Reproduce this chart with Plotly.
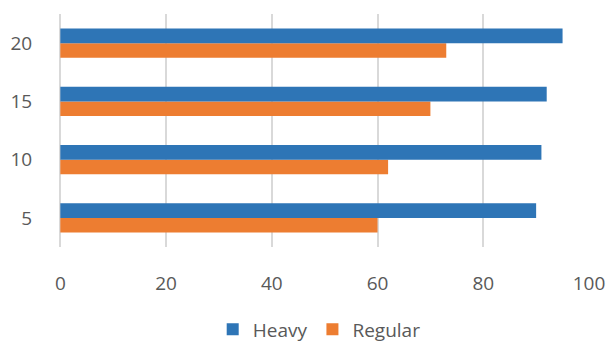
import plotly.graph_objects as go

# Category labels (bottom to top) and series values
categories = ["5", "10", "15", "20"]
heavy = [90, 91, 92, 95]
regular = [60, 62, 70, 73]
x_ticks = [0, 20, 40, 60, 80, 100]

BLUE = "#2E75B6"
ORANGE = "#ED7D31"
TEXT = "#595959"
GRID = "#D9D9D9"
FONT = "Open Sans, Liberation Sans, sans-serif"

fig = go.Figure()
# Regular first so that Heavy sits above it within each group
fig.add_trace(go.Bar(y=categories, x=regular, name="Regular", orientation="h",
                     marker=dict(color=ORANGE, line=dict(width=0))))
fig.add_trace(go.Bar(y=categories, x=heavy, name="Heavy", orientation="h",
                     marker=dict(color=BLUE, line=dict(width=0))))

fig.update_layout(
    width=608, height=343,
    margin=dict(l=59, r=19, t=14, b=96, autoexpand=False),
    paper_bgcolor="white", plot_bgcolor="white",
    barmode="group", bargap=0.5, bargroupgap=0,
    font=dict(family=FONT, size=19, color=TEXT),
    legend=dict(orientation="h", traceorder="reversed",
                x=0.525, xanchor="center", xref="container",
                y=0.04, yanchor="middle", yref="container",
                font=dict(size=19, color=TEXT), itemwidth=30),
    xaxis=dict(range=[-0.25, 100], tickvals=x_ticks, showgrid=True,
               gridcolor=GRID, gridwidth=1.5, zeroline=False, automargin=False,
               showline=False, ticks="outside", ticklen=19,
               tickcolor="rgba(0,0,0,0)", tickfont=dict(size=19, color=TEXT)),
    yaxis=dict(type="category", categoryorder="array", categoryarray=categories,
               range=[-0.5, 3.5], showgrid=False, zeroline=False, showline=False,
               automargin=False, ticks="outside", ticklen=22,
               tickcolor="rgba(0,0,0,0)", tickfont=dict(size=19, color=TEXT)),
)

fig.write_html("out.html")
